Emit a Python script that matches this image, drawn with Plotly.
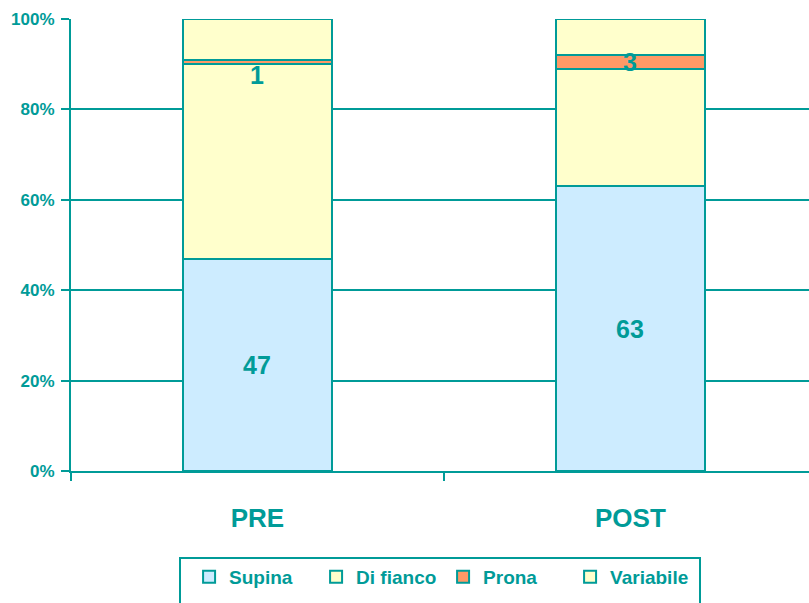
import plotly.graph_objects as go

categories = ["PRE", "POST"]
series_names = ["Supina", "Di fianco", "Prona", "Variabile"]
supina = [47, 63]
di_fianco = [43, 26]
prona = [1, 3]
variabile = [9, 8]
show_label = [True, False, True, False]
tick_vals = [0, 20, 40, 60, 80, 100]
tick_text = ["0%", "20%", "40%", "60%", "80%", "100%"]

TEAL = "#009b98"
colors = ["#cdecff", "#ffffcc", "#ff9966", "#ffffcc"]
FONT = "Liberation Sans, Arial, sans-serif"

values = [supina, di_fianco, prona, variabile]

fig = go.Figure()
for name, vals, col in zip(series_names, values, colors):
    fig.add_trace(go.Bar(
        x=categories, y=vals, name=name,
        marker=dict(color=col, line=dict(color=TEAL, width=2)),
    ))

# value labels
annotations = []
cum = [0, 0]
for s, vals in enumerate(values):
    for i, v in enumerate(vals):
        if show_label[s]:
            shift = 0
            if series_names[s] == "Prona" and v < 2:
                shift = -13
            annotations.append(dict(
                x=categories[i], y=cum[i] + v / 2, text=str(v), showarrow=False,
                yshift=shift,
                font=dict(family=FONT, size=25, color=TEAL, weight="bold"),
            ))
        cum[i] += v

fig.update_layout(
    barmode="stack",
    bargap=0.6,
    width=809, height=603,
    margin=dict(l=71, r=0, t=19, b=132, autoexpand=False),
    paper_bgcolor="white", plot_bgcolor="white",
    font=dict(family=FONT, color=TEAL, weight="bold"),
    annotations=annotations,
    showlegend=True,
    legend=dict(
        orientation="h", x=0.16, xanchor="left", y=-0.1925, yanchor="top",
        borderwidth=0, bgcolor="rgba(0,0,0,0)",
        font=dict(family=FONT, size=19, color=TEAL, weight="bold"),
        traceorder="normal",
        entrywidth=82, entrywidthmode="pixels",
    ),
    shapes=[dict(
        type="rect", xref="paper", yref="paper",
        x0=0.1477, x1=0.8523, y0=-0.1925, y1=-0.31,
        line=dict(color=TEAL, width=2), fillcolor="rgba(0,0,0,0)", layer="above",
    )],
    xaxis=dict(
        range=[-0.5, 1.479], showline=True, linecolor=TEAL, linewidth=2,
        ticks="outside", tickson="boundaries", ticklen=8, tickwidth=2, tickcolor=TEAL,
        tickfont=dict(family=FONT, size=26, color=TEAL, weight="bold"),
        ticklabelstandoff=23,
        showgrid=False,
    ),
    yaxis=dict(
        range=[0, 100], tickvals=tick_vals, ticktext=tick_text,
        showline=True, linecolor=TEAL, linewidth=2,
        ticks="outside", ticklen=8, tickwidth=2, tickcolor=TEAL,
        tickfont=dict(family=FONT, size=17, color=TEAL, weight="bold"),
        ticklabelstandoff=3,
        showgrid=True, gridcolor=TEAL, gridwidth=2,
        zeroline=False,
    ),
)

fig.write_html(
    "out.html",
    config={"displayModeBar": False},
    post_script="document.body.style.margin='0';document.body.style.overflow='hidden';",
)
